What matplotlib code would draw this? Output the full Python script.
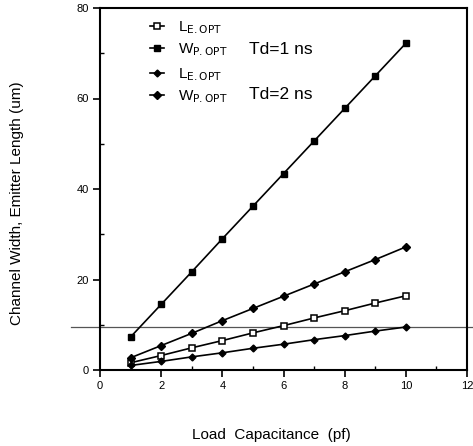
""" load capacitance vs optimal device sizes """
import matplotlib
matplotlib.use("Agg")
from matplotlib import pyplot as plt
from matplotlib.ticker import MultipleLocator

plt.rcParams["font.family"] = ["Liberation Sans", "DejaVu Sans"]

# data
load_cap = [1, 2, 3, 4, 5, 6, 7, 8, 9, 10]
w_td1 = [7.3, 14.5, 21.7, 29.0, 36.2, 43.4, 50.6, 57.8, 65.0, 72.2]
l_td1 = [1.6, 3.2, 4.9, 6.5, 8.2, 9.8, 11.5, 13.1, 14.8, 16.4]
w_td2 = [2.7, 5.4, 8.1, 10.9, 13.6, 16.3, 19.0, 21.7, 24.4, 27.2]
l_td2 = [1.0, 1.9, 2.9, 3.8, 4.8, 5.7, 6.7, 7.6, 8.6, 9.5]
scan_line_level = 9.5  # stray horizontal line from the scan

lbl_l = r"L$_{\mathrm{E.OPT}}$"
lbl_w = r"W$_{\mathrm{P.OPT}}$"

fig = plt.figure(figsize=(4.73, 4.46), dpi=100)
ax = fig.add_axes([100 / 473, 1 - 370 / 446, 367 / 473, 362 / 446])

h_l1, = ax.plot(load_cap, l_td1, color="black", lw=1.2, marker="s", ms=4,
                mfc="white", mec="black", mew=1.1)
h_w1, = ax.plot(load_cap, w_td1, color="black", lw=1.2, marker="s", ms=4.8,
                mfc="black", mec="black")
h_l2, = ax.plot(load_cap, l_td2, color="black", lw=1.2, marker="D", ms=3.5,
                mfc="black", mec="black")
h_w2, = ax.plot(load_cap, w_td2, color="black", lw=1.2, marker="D", ms=3.8,
                mfc="black", mec="black")

# scan artefact line running across the page
ax.axhline(scan_line_level, xmin=-0.08, xmax=1.03, color="#555555", lw=0.9,
           clip_on=False, zorder=0)

# axis ranges and ticks
ax.set_xlim(0, 12)
ax.set_ylim(0, 80)
ax.xaxis.set_major_locator(MultipleLocator(2))
ax.xaxis.set_minor_locator(MultipleLocator(1))
ax.yaxis.set_major_locator(MultipleLocator(20))
ax.yaxis.set_minor_locator(MultipleLocator(10))
ax.tick_params(which="major", direction="out", length=5, width=1.2,
               labelsize=8, pad=3)
ax.tick_params(which="minor", direction="in", length=3, width=1)
for s in ax.spines.values():
    s.set_linewidth(1.5)

# legends
leg_kw = dict(frameon=False, fontsize=11, handlelength=0.9,
              handletextpad=0.9, labelspacing=0.35, borderaxespad=0)
leg1 = ax.legend([h_l1, h_w1], [lbl_l, lbl_w], loc="upper left",
                 bbox_to_anchor=(0.12, 0.985), **leg_kw)
ax.add_artist(leg1)
ax.legend([h_l2, h_w2], [lbl_l, lbl_w], loc="upper left",
          bbox_to_anchor=(0.12, 0.855), **leg_kw)
ax.text(0.405, 0.885, "Td=1 ns", transform=ax.transAxes, fontsize=12.5,
        va="center")
ax.text(0.405, 0.76, "Td=2 ns", transform=ax.transAxes, fontsize=12.5,
        va="center")

# axis labels
fig.text(271 / 473, 1 - 435 / 446, "Load  Capacitance  (pf)", fontsize=11,
         ha="center", va="center")
fig.text(17 / 473, 1 - 203 / 446, "Channel Width, Emitter Length (um)",
         fontsize=11, rotation=90, ha="center", va="center")

fig.savefig("out.png", dpi=100)
